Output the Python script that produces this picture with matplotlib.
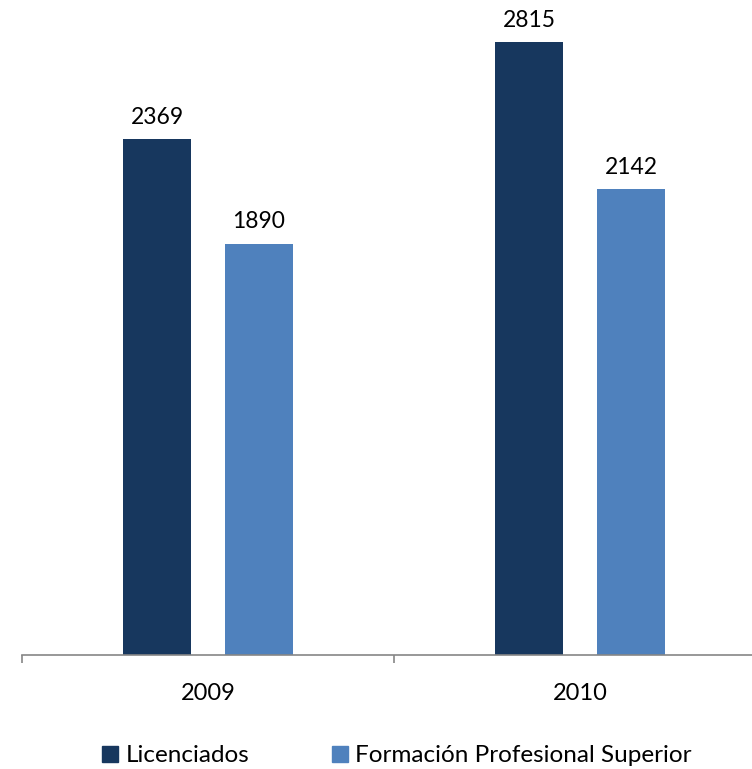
import numpy as np
import matplotlib.pyplot as plt
from matplotlib.patches import Patch

years = ["2009", "2010"]
licenciados = [2369, 2815]
formacion = [1890, 2142]
series_names = ["Licenciados", "Formación Profesional Superior"]
colors = ["#17375E", "#4F81BD"]

plt.rcParams["font.family"] = ["Lato", "DejaVu Sans"]

fig = plt.figure(figsize=(7.52, 7.69), dpi=100)
ax = fig.add_axes([22 / 752, 114 / 769, 744 / 752, 653 / 769])

x = np.arange(len(years))
width = 0.182
offset = 0.137

bars1 = ax.bar(x - offset, licenciados, width, color=colors[0])
bars2 = ax.bar(x + offset, formacion, width, color=colors[1])

for bars in (bars1, bars2):
    for b in bars:
        h = b.get_height()
        ax.annotate(f"{h:.0f}", (b.get_x() + b.get_width() / 2, h),
                    xytext=(0, 8), textcoords="offset points",
                    ha="center", va="bottom", fontsize=16.5, color="black")

ax.set_xlim(-0.5, 1.5)
ax.set_ylim(0, 3000)

for side in ("left", "right", "top"):
    ax.spines[side].set_visible(False)
ax.spines["bottom"].set_color("#868686")
ax.spines["bottom"].set_linewidth(1.2)

ax.set_yticks([])
ax.set_xticks([-0.5, 0.5, 1.5])
ax.set_xticklabels([])
ax.tick_params(axis="x", length=6, width=1.2, color="#868686")
ax.set_xticks(x, minor=True)
ax.set_xticklabels(years, minor=True, fontsize=17)
ax.tick_params(axis="x", which="minor", length=0, pad=20)

handles = [Patch(color=c, label=n) for c, n in zip(colors, series_names)]
fig.legend(handles=handles, loc="center", bbox_to_anchor=(397 / 752, 1 - 756 / 769),
           ncol=2, frameon=False, fontsize=17.5, handlelength=0.65, handleheight=0.65,
           handletextpad=0.3, columnspacing=3.4)

fig.savefig("out.png", dpi=100)
